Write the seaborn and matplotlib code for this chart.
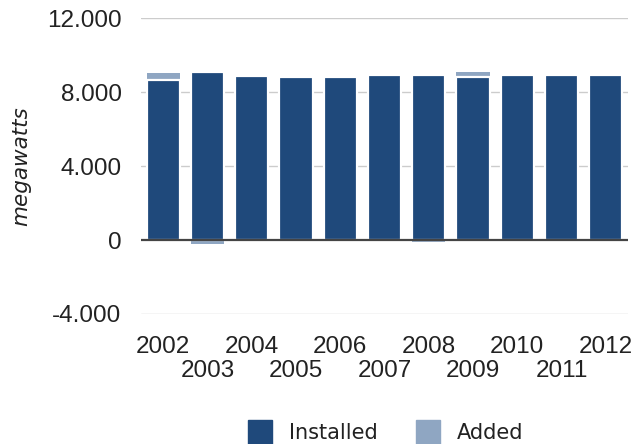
import matplotlib
matplotlib.use("Agg")
import matplotlib.pyplot as plt
from matplotlib.ticker import FuncFormatter, FixedLocator
from matplotlib.lines import Line2D
from matplotlib.font_manager import FontProperties
from matplotlib.transforms import blended_transform_factory
import seaborn as sns
import pandas as pd

years = ["2002", "2003", "2004", "2005", "2006", "2007", "2008", "2009", "2010", "2011", "2012"]
installed = [8650, 9080, 8880, 8830, 8810, 8940, 8940, 8830, 8940, 8940, 8940]
added = [400, -200, 0, 0, 0, 0, -130, 250, 0, 0, 0]
y_ticks = [-4000, 0, 4000, 8000, 12000]

DARK = "#1f497b"
LIGHT = "#8fa6c2"
TEXT = "#222222"

sns.set_theme(style="white")
plt.rcParams["font.family"] = ["Liberation Sans", "DejaVu Sans"]

df = pd.DataFrame({"year": years, "installed": installed, "added": added})
# the "added" segment sits on top of the installed bar when positive, below zero when negative
df["added_extent"] = [i + a if a > 0 else a for i, a in zip(installed, added)]

fig = plt.figure(figsize=(6.35, 4.44), dpi=100)
ax = fig.add_axes([141 / 635, 1 - 314 / 444, (628 - 141) / 635, (314 - 18) / 444])

sns.barplot(data=df, x="year", y="added_extent", color=LIGHT, width=0.75,
            saturation=1, linewidth=0, ax=ax, zorder=2)
sns.barplot(data=df, x="year", y="installed", color=DARK, width=0.75,
            saturation=1, edgecolor="white", linewidth=1.6, ax=ax, zorder=3)

ax.set_ylim(-4000, 12000)
ax.set_xlim(-0.5, len(years) - 0.5)
ax.yaxis.set_major_locator(FixedLocator(y_ticks))
ax.yaxis.set_major_formatter(FuncFormatter(lambda v, p: f"{int(v):,}".replace(",", ".")))
for v in y_ticks:
    if v == 0:
        ax.axhline(v, color="#444444", lw=1.6, zorder=4)
    else:
        ax.axhline(v, color="#cccccc", lw=1.0, zorder=0.5)

for s in ax.spines.values():
    s.set_visible(False)

ax.set_xlabel("")
ax.set_ylabel("")
ax.tick_params(axis="both", length=0, labelsize=17.5, colors=TEXT)
ax.tick_params(axis="y", pad=14)
ax.tick_params(axis="x", pad=16)

# alternate years on two rows: even ones as tick labels, odd ones on a second row
ax.set_xticks(range(len(years)))
ax.set_xticklabels([y if i % 2 == 0 else "" for i, y in enumerate(years)])
trans = blended_transform_factory(ax.transData, fig.transFigure)
for i, y in enumerate(years):
    if i % 2 == 1:
        ax.text(i, 1 - 371 / 444, y, transform=trans, ha="center", va="center",
                fontsize=17.5, color=TEXT)

ylabel_font = FontProperties(family="DejaVu Sans", style="italic", size=15.5)
fig.text(21 / 635, 1 - 166 / 444, "megawatts", rotation=90, ha="center", va="center",
         fontproperties=ylabel_font, color=TEXT)

handles = [
    Line2D([], [], marker="s", linestyle="none", markersize=17, markerfacecolor=DARK,
           markeredgecolor=DARK, label="Installed"),
    Line2D([], [], marker="s", linestyle="none", markersize=17, markerfacecolor=LIGHT,
           markeredgecolor=LIGHT, label="Added"),
]
fig.legend(handles=handles, loc="center", bbox_to_anchor=(381 / 635, 1 - 433 / 444),
           ncol=2, frameon=False, handletextpad=0.4, columnspacing=1.4,
           prop={"family": "DejaVu Sans", "size": 15}, labelcolor=TEXT)

fig.savefig("out.png", dpi=100)
